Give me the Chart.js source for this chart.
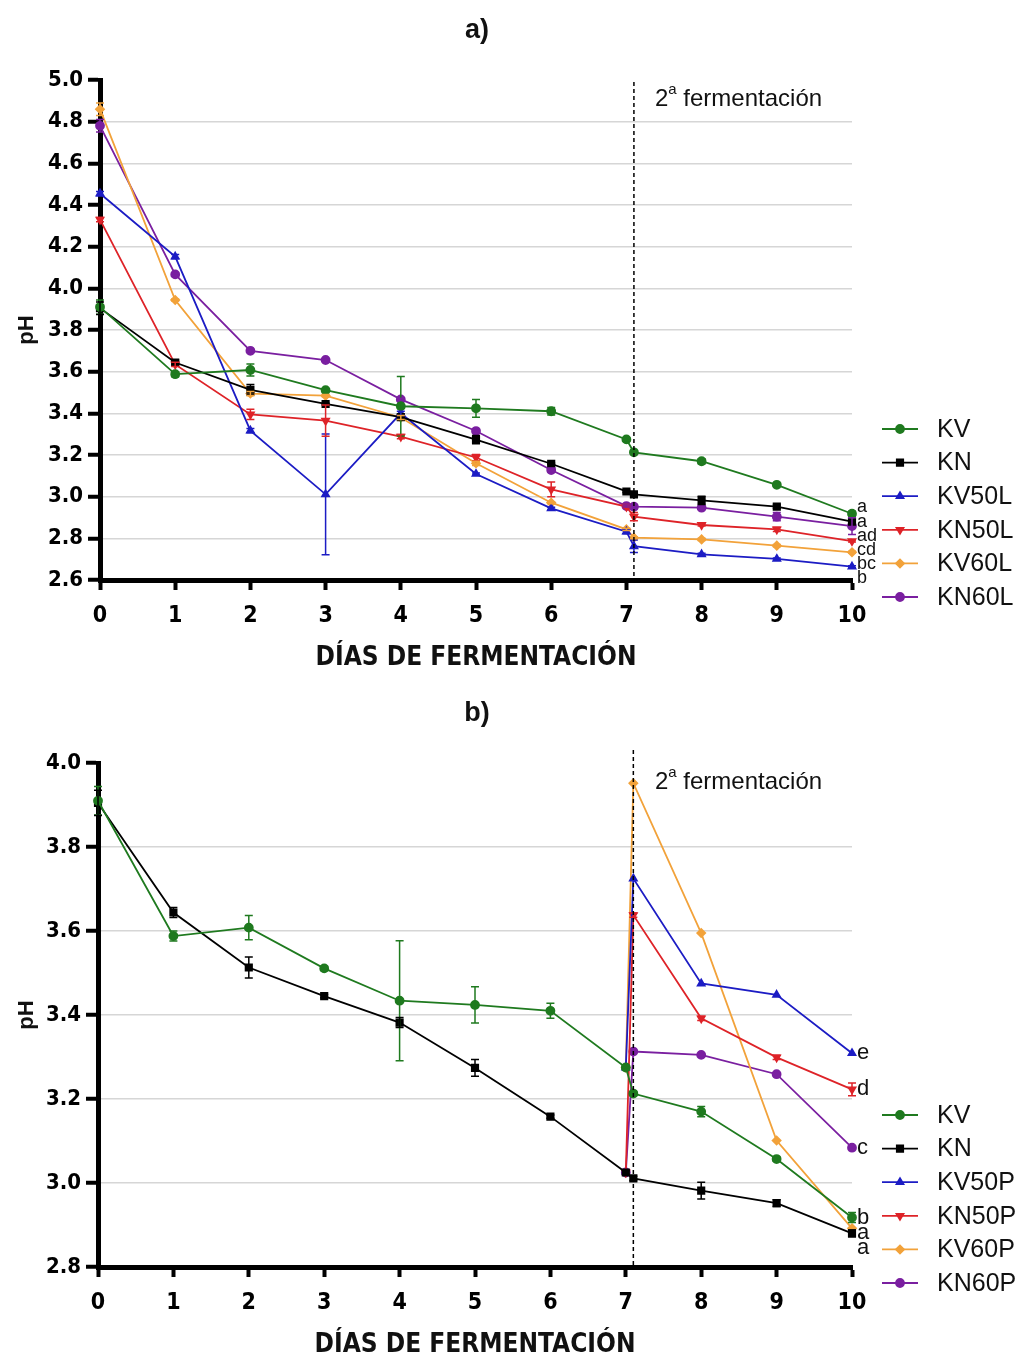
<!DOCTYPE html>
<html lang="es">
<head>
<meta charset="UTF-8">
<title>pH durante la fermentación</title>
<script src="https://cdn.jsdelivr.net/npm/chart.js"></script>
<style>
  html, body { margin: 0; background: #fff; overflow: hidden; }
  .panel { position: absolute; left: 0; width: 1021px; }
  #panelA { top: 0; height: 680px; }
  #panelB { top: 683px; height: 684px; }
</style>
</head>
<body>
<div class="panel" id="panelA"><canvas id="chartA"></canvas></div>
<div class="panel" id="panelB"><canvas id="chartB"></canvas></div>
<script>
// días de muestreo (7.1 = inicio de la 2ª fermentación)
const days  = [0, 1, 2, 3, 4, 5, 6, 7, 7.1, 8, 9, 10];
const daysP = [7, 7.1, 8, 9, 10];

// controles (comunes a ambos paneles)
const KV     = [3.91, 3.588, 3.608, 3.511, 3.434, 3.424, 3.41, 3.275, 3.213, 3.17, 3.057, 2.918];
const KV_err = [0.034, 0.012, 0.029, 0.005, 0.143, 0.043, 0.018, 0.005, 0.005, 0.012, 0.005, 0.012];
const KN     = [3.905, 3.644, 3.513, 3.445, 3.382, 3.274, 3.158, 3.025, 3.011, 2.982, 2.952, 2.88];
const KN_err = [0.03, 0.012, 0.025, 0.004, 0.012, 0.02, 0.004, 0.005, 0.005, 0.02, 0.008, 0.008];

// panel a)
const KV50L     = [4.455, 4.152, 3.317, 3.011, 3.40, 3.109, 2.944, 2.832, 2.762, 2.723, 2.701, 2.664];
const KV50L_err = [0.01, 0.01, 0.01, 0.29, 0.01, 0.005, 0.005, 0.01, 0.03, 0.005, 0.005, 0.005];
const KN50L     = [4.33, 3.635, 3.395, 3.365, 3.288, 3.188, 3.035, 2.952, 2.904, 2.864, 2.843, 2.787];
const KN50L_err = [0.01, 0.01, 0.025, 0.075, 0.01, 0.015, 0.035, 0.005, 0.02, 0.005, 0.01, 0.005];
const KV60L     = [4.86, 3.944, 3.495, 3.485, 3.38, 3.16, 2.971, 2.843, 2.803, 2.795, 2.765, 2.733];
const KV60L_err = [0.03, 0.005, 0.01, 0.005, 0.01, 0.01, 0.005, 0.005, 0.005, 0.005, 0.005, 0.005];
const KN60L     = [4.78, 4.067, 3.70, 3.656, 3.467, 3.315, 3.128, 2.955, 2.952, 2.947, 2.904, 2.859];
const KN60L_err = [0.03, 0.005, 0.005, 0.005, 0.005, 0.005, 0.01, 0.005, 0.01, 0.005, 0.02, 0.04];

// panel b)
const KV50P     = [3.275, 3.725, 3.475, 3.448, 3.309];
const KN50P     = [3.025, 3.638, 3.392, 3.299, 3.223];
const KN50P_err = [0, 0.005, 0.005, 0.005, 0.015];
const KV60P     = [3.275, 3.952, 3.595, 3.101, 2.892];
const KN60P     = [3.025, 3.313, 3.305, 3.259, 3.084];

// letras de significancia (en el orden de los datasets)
const lettersA = ['a', 'a', 'b', 'cd', 'bc', 'ad'];
const lettersB = ['b', 'a', 'e', 'd', 'a', 'c'];

const SANS = '"Liberation Sans", Arial, sans-serif';
const NARROW = '"Liberation Sans Narrow", "Arial Narrow", "DejaVu Sans Condensed", sans-serif';
Chart.defaults.font.family = SANS;

const C = {
  green: '#1f7a1f', black: '#000000', blue: '#1c1cc4',
  red: '#de2328', orange: '#f2a23a', purple: '#7a1fa0'
};

function series(label, xs, ys, errs, color, style, rot) {
  const data = xs.map((x, i) => ({ x: x, y: ys[i], e: errs ? errs[i] : 0 }));
  return {
    label: label, data: data,
    borderColor: color, backgroundColor: color, borderWidth: 1.8,
    pointStyle: style, pointRotation: rot || 0,
    pointRadius: style === 'rect' ? 4.5 : 4, pointHoverRadius: 4,
    clip: false, tension: 0
  };
}

// barras de error, línea de 2ª fermentación, letras, leyenda y título
const decor = {
  id: 'decor',
  afterDatasetsDraw(chart, args, opts) {
    const ctx = chart.ctx;
    const x = chart.scales.x, y = chart.scales.y;
    const area = chart.chartArea;

    // barras de error
    chart.data.datasets.forEach(ds => {
      ctx.save();
      ctx.strokeStyle = ds.borderColor;
      ctx.lineWidth = 1.5;
      ds.data.forEach(p => {
        if (!p.e) return;
        const px = x.getPixelForValue(p.x);
        const t = y.getPixelForValue(p.y + p.e);
        const b = y.getPixelForValue(p.y - p.e);
        ctx.beginPath();
        ctx.moveTo(px, t); ctx.lineTo(px, b);
        ctx.moveTo(px - 4, t); ctx.lineTo(px + 4, t);
        ctx.moveTo(px - 4, b); ctx.lineTo(px + 4, b);
        ctx.stroke();
      });
      ctx.restore();
    });

    // línea discontinua
    const xd = x.getPixelForValue(7.1);
    ctx.save();
    ctx.strokeStyle = '#000';
    ctx.lineWidth = 1.5;
    ctx.setLineDash([4, 3]);
    ctx.beginPath();
    ctx.moveTo(xd, area.top + opts.dashTop);
    ctx.lineTo(xd, area.bottom);
    ctx.stroke();
    ctx.restore();

    // texto 2ª fermentación
    ctx.save();
    ctx.fillStyle = '#111';
    ctx.textBaseline = 'middle';
    ctx.font = '24px ' + SANS;
    let tx = 655, ty = 99;
    ctx.fillText('2', tx, ty);
    tx += ctx.measureText('2').width;
    ctx.font = '15px ' + SANS;
    ctx.fillText('a', tx, ty - 9);
    tx += ctx.measureText('a').width;
    ctx.font = '24px ' + SANS;
    ctx.fillText(' fermentación', tx, ty);
    ctx.restore();

    // letras al final de cada serie
    const ends = chart.data.datasets.map((ds, i) => {
      const last = ds.data[ds.data.length - 1];
      return { py: y.getPixelForValue(last.y), txt: opts.letters[i] };
    }).sort((a, b) => a.py - b.py);
    ctx.save();
    ctx.fillStyle = '#111';
    ctx.textBaseline = 'middle';
    ctx.font = opts.letterSize + 'px ' + SANS;
    let prev = -1e9;
    ends.forEach((e, k) => {
      const ly = k === 0 ? e.py + opts.letterOffset : Math.max(e.py, prev + opts.letterGap);
      ctx.fillText(e.txt, x.right + 5, ly);
      prev = ly;
    });
    ctx.restore();

    // leyenda
    ctx.save();
    chart.data.datasets.forEach((ds, i) => {
      const ly = opts.legendTop + i * 33.6;
      ctx.strokeStyle = ds.borderColor;
      ctx.fillStyle = ds.borderColor;
      ctx.lineWidth = 1.8;
      ctx.beginPath();
      ctx.moveTo(882, ly); ctx.lineTo(918, ly);
      ctx.stroke();
      Chart.helpers.drawPoint(ctx, {
        pointStyle: ds.pointStyle, rotation: ds.pointRotation,
        radius: ds.pointRadius, borderWidth: 1
      }, 900, ly);
      ctx.fillStyle = '#111';
      ctx.font = '25px ' + SANS;
      ctx.textBaseline = 'middle';
      ctx.fillText(ds.label, 937, ly + 1);
    });
    ctx.restore();

    // título del panel
    ctx.save();
    ctx.fillStyle = '#111';
    ctx.font = 'bold 27px ' + SANS;
    ctx.textAlign = 'center';
    ctx.textBaseline = 'middle';
    ctx.fillText(opts.title, 477, 31);
    ctx.restore();
  }
};

function makeOptions(yMin, yMax, leftWidth, extra) {
  return {
    responsive: true,
    maintainAspectRatio: false,
    animation: false,
    layout: { padding: { left: 0, right: 169, top: 80, bottom: 0 } },
    plugins: {
      legend: { display: false },
      tooltip: { enabled: false },
      decor: extra
    },
    scales: {
      x: {
        type: 'linear', min: 0, max: 10,
        afterFit: s => { s.height = 100; },
        ticks: {
          stepSize: 1, color: '#000', padding: 12,
          font: { family: NARROW, size: 23, weight: 'bold' }
        },
        grid: { drawOnChartArea: false, tickLength: 10, tickWidth: 4, tickColor: '#000' },
        border: { width: 5, color: '#000' },
        title: {
          display: true, text: 'DÍAS DE FERMENTACIÓN', color: '#111',
          font: { family: NARROW, size: 26, weight: 'bold' },
          padding: { top: 4, bottom: 6 }
        }
      },
      y: {
        min: yMin, max: yMax,
        afterFit: s => { s.width = leftWidth; },
        ticks: {
          stepSize: 0.2, color: '#000', padding: 5,
          font: { family: NARROW, size: 22, weight: 'bold' },
          callback: v => v.toFixed(1)
        },
        grid: {
          color: c => (c.tick && Math.abs(c.tick.value - yMax) < 1e-6) ? 'rgba(0,0,0,0)' : '#d6d6d6',
          lineWidth: 1.5, tickLength: 12, tickWidth: 4, tickColor: '#000'
        },
        border: { width: 5, color: '#000' },
        title: {
          display: true, text: 'pH', color: '#111',
          font: { family: SANS, size: 22, weight: 'bold' },
          padding: { top: 14, bottom: 0 }
        }
      }
    }
  };
}

new Chart(document.getElementById('chartA'), {
  type: 'line',
  data: {
    datasets: [
      series('KV', days, KV, KV_err, C.green, 'circle'),
      series('KN', days, KN, KN_err, C.black, 'rect'),
      series('KV50L', days, KV50L, KV50L_err, C.blue, 'triangle'),
      series('KN50L', days, KN50L, KN50L_err, C.red, 'triangle', 180),
      series('KV60L', days, KV60L, KV60L_err, C.orange, 'rectRot'),
      series('KN60L', days, KN60L, KN60L_err, C.purple, 'circle')
    ]
  },
  options: makeOptions(2.6, 5.0, 100, {
    title: 'a)', letters: lettersA, letterSize: 18, letterGap: 14, letterOffset: -7,
    legendTop: 429, dashTop: 2
  }),
  plugins: [decor]
});

new Chart(document.getElementById('chartB'), {
  type: 'line',
  data: {
    datasets: [
      series('KV', days, KV, KV_err, C.green, 'circle'),
      series('KN', days, KN, KN_err, C.black, 'rect'),
      series('KV50P', daysP, KV50P, null, C.blue, 'triangle'),
      series('KN50P', daysP, KN50P, KN50P_err, C.red, 'triangle', 180),
      series('KV60P', daysP, KV60P, null, C.orange, 'rectRot'),
      series('KN60P', daysP, KN60P, null, C.purple, 'circle')
    ]
  },
  options: makeOptions(2.8, 4.0, 98, {
    title: 'b)', letters: lettersB, letterSize: 22, letterGap: 15, letterOffset: 0,
    legendTop: 432, dashTop: -13
  }),
  plugins: [decor]
});
</script>
</body>
</html>
